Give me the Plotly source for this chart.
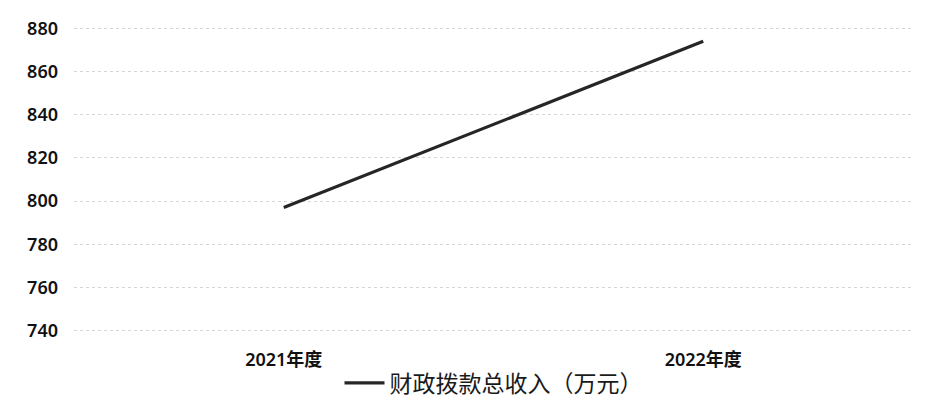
import plotly.graph_objects as go

categories = ["2021年度", "2022年度"]
values = [797, 874]
series_name = "财政拨款总收入（万元）"
y_ticks = [740, 760, 780, 800, 820, 840, 860, 880]

fig = go.Figure()
fig.add_trace(go.Scatter(
    x=categories, y=values, mode="lines", name=series_name,
    line=dict(color="#262626", width=3.2),
))

fig.update_layout(
    width=945, height=410,
    margin=dict(l=74, r=32, t=24, b=75, autoexpand=False),
    paper_bgcolor="white", plot_bgcolor="white",
    showlegend=True,
    legend=dict(orientation="h", x=0.5, xanchor="center",
                yref="container", y=0.066, yanchor="middle",
                font=dict(family="Noto Sans CJK SC", size=23, color="#1a1a1a"),
                itemwidth=40),
    xaxis=dict(type="category", range=[-0.5, 1.5], showgrid=False, showline=False,
               zeroline=False, ticks="", ticklabelstandoff=12,
               tickfont=dict(family="Noto Sans, Noto Sans CJK SC", size=18, color="#111", weight=600)),
    yaxis=dict(range=[738, 882], tickvals=y_ticks, showgrid=True,
               gridcolor="#d6d6d6", gridwidth=1, griddash="dot",
               zeroline=False, showline=False, ticks="", ticklabelstandoff=15,
               tickfont=dict(family="Noto Sans", size=18, color="#111", weight=600)),
)

fig.write_html("out.html")
